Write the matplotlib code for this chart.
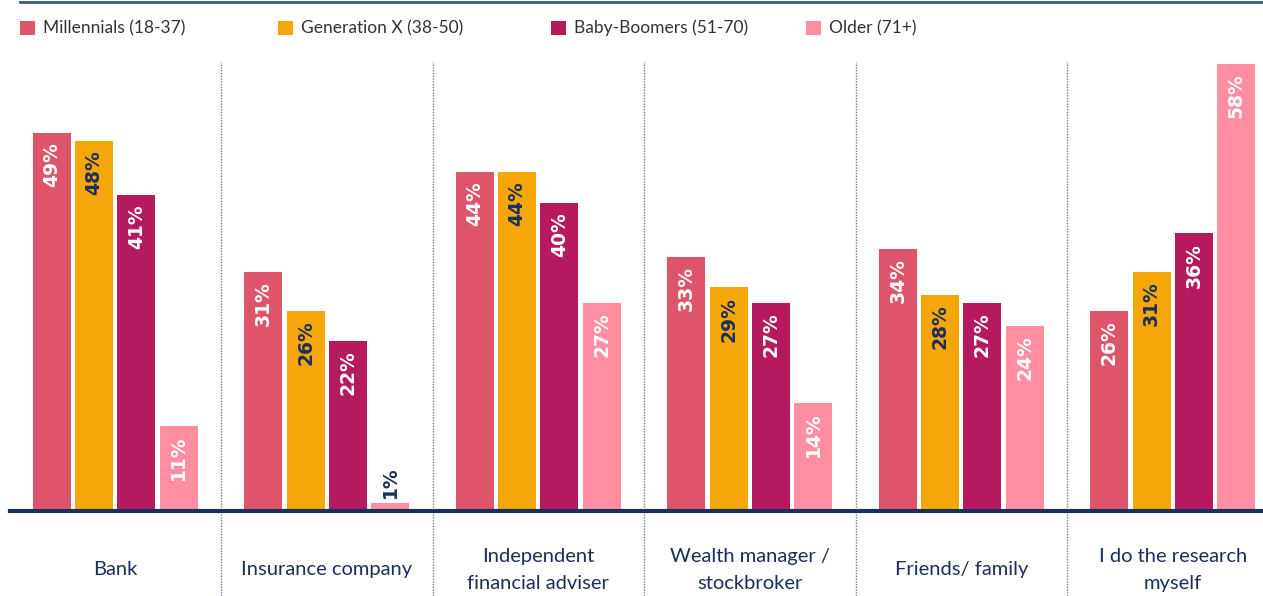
#!/usr/bin/env python3
# -*- coding: utf-8 -*-
"""
Where people go for financial advice, by generation - grouped bar chart
"""

import matplotlib
matplotlib.use('Agg')
import matplotlib.pyplot as plt
from matplotlib.patches import Rectangle
import numpy as np

plt.rcParams['font.family'] = ['Lato', 'DejaVu Sans']

# data
categories = ['Bank', 'Insurance company', 'Independent\nfinancial adviser',
              'Wealth manager /\nstockbroker', 'Friends/ family',
              'I do the research\nmyself']
series_names = ['Millennials (18-37)', 'Generation X (38-50)',
                'Baby-Boomers (51-70)', 'Older (71+)']
millennials = [49, 31, 44, 33, 34, 26]
gen_x = [48, 26, 44, 29, 28, 31]
boomers = [41, 22, 40, 27, 27, 36]
older = [11, 1, 27, 14, 24, 58]

colors = ['#DE5469', '#F5A70A', '#B5195E', '#FF8FA0']
label_colors = ['white', '#1B2F5B', 'white', 'white']
NAVY = '#1B2F5B'

W, H = 1263, 596
fig = plt.figure(figsize=(W / 100, H / 100), dpi=100)

# axes: baseline at y=511 px, first group starts at x~9.5 px
ax_left, ax_bottom, ax_top = 9.5, 511, 40
ax = fig.add_axes([ax_left / W, (H - ax_bottom) / H,
                   (W - ax_left) / W, (ax_bottom - ax_top) / H])
px_per_unit_y = 7.71
px_per_group = 211.5
ax.set_ylim(0, (ax_bottom - ax_top) / px_per_unit_y)
ax.set_xlim(0, (W - ax_left) / px_per_group)
ax.axis('off')

all_series = [millennials, gen_x, boomers, older]
bar_w = 0.18
offsets = [0.2, 0.4, 0.6, 0.8]
x = np.arange(len(categories))

for k, vals in enumerate(all_series):
    xs = x + offsets[k]
    ax.bar(xs, vals, width=bar_w, color=colors[k], zorder=2)
    for xi, v in zip(xs, vals):
        if v >= 5:
            ax.text(xi, v - 1.2, f'{v}%', rotation=90, ha='center', va='top',
                    color=label_colors[k], fontsize=13.5, fontweight='bold',
                    family=['DejaVu Sans'], zorder=3)
        else:
            ax.text(xi, v + 0.7, f'{v}%', rotation=90, ha='center', va='bottom',
                    color=NAVY, fontsize=13.5, fontweight='bold',
                    family=['DejaVu Sans'], zorder=3)

# baseline
ax.axhline(0, color=NAVY, lw=3, zorder=4, clip_on=False)

# dotted separators between groups
y_bottom = -(H - ax_bottom) / px_per_unit_y
y_sep_top = (ax_bottom - 62) / px_per_unit_y
ax.vlines(x[1:], y_bottom, y_sep_top, colors='#6A7FA0', linestyles=(0, (1, 1)),
          lw=1, clip_on=False, zorder=1)

# category labels
for xi, cat in zip(x, categories):
    ax.text(xi + 0.5, -7.65, cat, ha='center', va='center', color=NAVY,
            fontsize=14.5, linespacing=1.65, clip_on=False)

# top rule
fig.add_artist(plt.Line2D([20 / W, 1], [1 - 1.5 / H, 1 - 1.5 / H],
                          color='#3A5A8A', lw=2))

# legend
legend_x = [20, 278, 551, 806]
for k, name in enumerate(series_names):
    lx = legend_x[k]
    fig.add_artist(Rectangle((lx / W, 1 - 35 / H), 15 / W, 14 / H,
                             facecolor=colors[k], edgecolor='none',
                             transform=fig.transFigure))
    fig.text((lx + 23) / W, 1 - 28 / H, name, ha='left', va='center',
             color='#333333', fontsize=12.5)

fig.savefig('out.png', dpi=100)
